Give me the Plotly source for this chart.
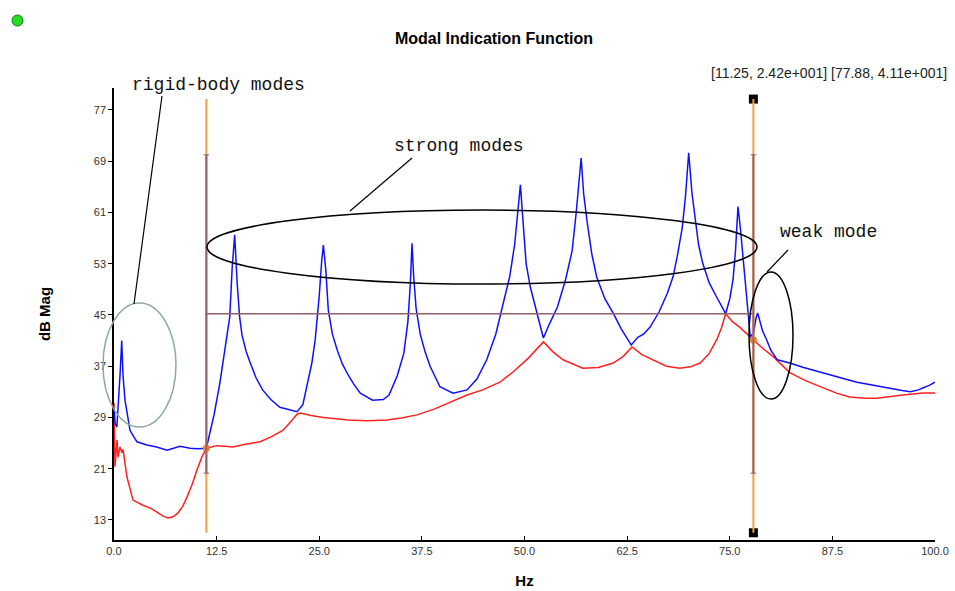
import plotly.graph_objects as go

# ---------------- data ----------------
blue_hz = [0.0, 0.15, 0.35, 0.55, 0.75, 0.94, 1.1, 1.34, 1.6, 1.95, 2.4, 2.8, 4.0, 5.2, 6.46, 7.3, 8.04, 9.26, 10.2, 11.25,
           12.2, 12.9, 13.6, 14.1, 14.4, 14.7, 15.0, 15.3, 15.6, 16.1, 16.6, 17.3, 18.1, 19.1, 20.2, 22.3, 23.0, 23.5, 24.1, 24.5,
           25.0, 25.3, 25.5, 25.8, 26.1, 26.6, 27.2, 27.8, 28.4, 29.2, 30.0, 31.5, 32.8, 33.5, 34.5, 35.3, 35.8, 36.1, 36.3, 36.5,
           36.8, 37.3, 37.9, 38.5, 39.7, 41.3, 43.0, 44.2, 45.4, 46.5, 47.4, 48.2, 48.8, 49.2, 49.5, 49.8, 50.2, 50.7, 51.5, 52.3,
           53.0, 54.0, 55.0, 55.8, 56.3, 56.7, 56.9, 57.2, 57.6, 58.2, 58.8, 59.8, 60.8, 61.8, 63.0, 63.8, 64.5, 65.3, 66.4, 67.4,
           68.1, 68.6, 69.2, 69.6, 70.0, 70.4, 70.8, 71.2, 71.7, 72.5, 73.4, 74.5, 75.0, 75.4, 75.7, 76.0, 76.3, 76.5, 76.8, 77.2,
           77.5, 77.9, 78.2, 78.4, 78.7, 79.0, 79.5, 80.0, 80.8, 82.3, 84.0, 86.4, 88.5, 90.5, 92.5, 94.5, 96.0, 97.0, 98.0, 98.5,
           99.3, 100.0]
blue_db = [30.5, 28.0, 27.5, 31.0, 36.0, 41.0, 35.5, 31.7, 29.5, 27.0, 26.0, 25.2, 24.7, 24.4, 23.9, 24.2, 24.5, 24.2, 24.1, 24.2,
           29.5, 34.4, 40.0, 44.7, 52.5, 57.5, 50.0, 44.7, 41.8, 39.3, 37.5, 35.2, 33.3, 31.8, 30.6, 29.9, 31.0, 33.8, 37.5, 41.1,
           48.0, 53.5, 55.9, 52.0, 45.8, 42.0, 39.5, 37.4, 35.9, 34.2, 32.8, 31.7, 31.8, 32.5, 35.5, 39.0, 44.0, 50.0, 56.2, 51.0,
           46.0, 42.0, 39.2, 37.0, 33.8, 32.8, 33.3, 35.0, 38.0, 42.0, 46.9, 51.0, 56.0, 61.0, 65.3, 60.0, 53.0, 49.4, 45.3, 41.4,
           43.5, 46.2, 50.5, 55.0, 61.0, 66.0, 69.5, 64.0, 59.8, 54.5, 50.9, 47.5, 45.3, 42.8, 40.3, 41.5, 42.0, 43.1, 45.5, 48.4,
           51.0, 54.1, 58.5, 63.4, 70.3, 64.0, 59.5, 56.0, 53.1, 50.0, 47.8, 45.2, 47.5, 50.5, 55.0, 61.9, 58.5, 55.6, 51.0, 44.7,
           41.6, 42.2, 44.5, 45.3, 44.0, 42.5, 41.1, 39.5, 38.0, 37.5, 36.8, 36.0, 35.2, 34.5, 34.0, 33.6, 33.2, 33.0, 33.3, 33.6,
           34.0, 34.5]

red_hz = [0.0, 0.12, 0.37, 0.49, 0.73, 0.97, 1.1, 1.58, 2.31, 3.53, 4.5, 5.24, 6.0, 6.58, 7.2, 7.8, 8.4, 8.9, 9.5, 10.1, 10.7,
          11.25, 12.5, 13.5, 14.5, 16.0, 17.8, 19.2, 20.6, 21.5, 22.3, 22.7, 24.0, 25.5, 26.7, 28.5, 30.8, 33.3, 35.0, 36.9, 39.0,
          40.9, 43.0, 44.9, 47.0, 48.6, 50.5, 52.3, 53.5, 54.7, 57.1, 59.0, 60.8, 62.0, 63.1, 64.3, 65.7, 67.3, 68.9, 70.2, 71.4,
          72.5, 73.4, 74.0, 74.5, 75.3, 76.2, 77.0, 77.88, 79.0, 80.3, 82.3, 84.3, 86.4, 88.0, 89.6, 91.5, 92.9, 94.5, 96.1, 98.5, 100.0]
red_db = [31.3, 21.3, 25.5, 22.8, 24.4, 23.5, 24.0, 19.7, 16.1, 15.3, 14.8, 14.2, 13.6, 13.3, 13.5, 14.1, 15.2, 16.6, 18.5, 20.8, 22.8,
          24.2, 24.6, 24.5, 24.4, 24.8, 25.2, 26.0, 27.0, 28.3, 29.5, 29.7, 29.3, 29.0, 28.8, 28.6, 28.5, 28.6, 28.9, 29.4, 30.3,
          31.4, 32.5, 33.3, 34.5, 36.1, 38.3, 40.8, 39.2, 38.0, 36.7, 36.8, 37.5, 38.5, 40.0, 38.8, 38.0, 37.0, 36.7, 36.9, 37.5,
          39.0, 41.1, 43.0, 45.2, 44.0, 43.1, 42.2, 41.1, 39.8, 38.5, 36.0, 34.7, 33.6, 32.8, 32.2, 32.0, 32.0, 32.3, 32.5, 32.8, 32.8]

cursor_x = [11.25, 77.88]
cursor_y = [24.2, 41.1]
band_level = 45.2
x_ticks = [0, 12.5, 25, 37.5, 50, 62.5, 75, 87.5, 100]
x_tick_text = ["0.0", "12.5", "25.0", "37.5", "50.0", "62.5", "75.0", "87.5", "100.0"]
y_ticks = [13, 21, 29, 37, 45, 53, 61, 69, 77]

# ---------------- layout geometry ----------------
W, H = 955, 591
L, R, T, B = 114, 20, 88, 51
PW, PH = W - L - R, H - T - B


def px(xp):
    return (xp - L) / PW


def py(yp):
    return (H - B - yp) / PH


fig = go.Figure()
fig.add_trace(go.Scatter(x=red_hz, y=red_db, mode="lines", line=dict(color="#ff2020", width=1.5), showlegend=False))
fig.add_trace(go.Scatter(x=blue_hz, y=blue_db, mode="lines", line=dict(color="#1010ff", width=1.5), showlegend=False))

ORANGE = "#f0a040"
MAROON = "#94606c"
shapes = []
y_top, y_bot, m_top, m_bot = 78.7, 11.0, 70.0, 20.3
for cx in cursor_x:
    shapes.append(dict(type="line", xref="x", yref="y", x0=cx, x1=cx, y0=y_bot, y1=y_top, line=dict(color=ORANGE, width=2)))
    shapes.append(dict(type="line", xref="x", yref="y", x0=cx, x1=cx, y0=m_bot, y1=m_top, line=dict(color=MAROON, width=2)))
    for yy in (m_bot, m_top):
        shapes.append(dict(type="line", xref="x", yref="y", x0=cx - 0.35, x1=cx + 0.35, y0=yy, y1=yy,
                           line=dict(color=MAROON, width=1)))
shapes.append(dict(type="line", xref="x", yref="y", x0=cursor_x[0], x1=cursor_x[1], y0=band_level, y1=band_level,
                   line=dict(color=MAROON, width=1.5)))

# ellipses and leader lines (annotation graphics)
shapes.append(dict(type="circle", xref="paper", yref="paper", x0=px(103), x1=px(176), y0=py(427), y1=py(303),
                   line=dict(color="#8fa8a0", width=1.5)))
shapes.append(dict(type="circle", xref="paper", yref="paper", x0=px(207), x1=px(757), y0=py(284), y1=py(210),
                   line=dict(color="black", width=1.5)))
shapes.append(dict(type="circle", xref="paper", yref="paper", x0=px(749), x1=px(793), y0=py(399), y1=py(272),
                   line=dict(color="black", width=1.5)))
for (a, b, c, d) in [(162, 96, 134, 304), (412, 158, 350, 211), (788, 250, 767, 272)]:
    shapes.append(dict(type="line", xref="paper", yref="paper", x0=px(a), y0=py(b), x1=px(c), y1=py(d),
                       line=dict(color="black", width=1.2)))
# green status dot
shapes.append(dict(type="circle", xref="paper", yref="paper", x0=px(12), x1=px(23), y0=py(26), y1=py(15),
                   fillcolor="#22dd22", line=dict(color="#107010", width=1)))

fig.add_trace(go.Scatter(x=cursor_x, y=cursor_y, mode="markers", marker=dict(color="#f08020", size=7),
                         showlegend=False, cliponaxis=False))
fig.add_trace(go.Scatter(x=[cursor_x[1], cursor_x[1]], y=[y_top, y_bot], mode="markers",
                         marker=dict(color="black", size=9, symbol="square"), showlegend=False, cliponaxis=False))

annots = []
mono = dict(family="Liberation Mono", size=18, color="#111111")
for text, xl, yc in [("rigid-body modes", 130, 85), ("strong modes", 392, 146), ("weak mode", 778, 232)]:
    annots.append(dict(text=text, xref="paper", yref="paper", x=px(xl), y=py(yc), xanchor="left", yanchor="middle",
                       showarrow=False, font=mono))
annots.append(dict(text="[11.25, 2.42e+001] [77.88, 4.11e+001]", xref="paper", yref="paper", x=px(709), y=py(73),
                   xanchor="left", yanchor="middle", showarrow=False,
                   font=dict(family="Liberation Sans", size=14, color="#222222")))

fig.update_layout(
    width=W, height=H, autosize=False,
    margin=dict(l=L, r=R, t=T, b=B, autoexpand=False),
    paper_bgcolor="white", plot_bgcolor="white",
    title=dict(text="<b>Modal Indication Function</b>", x=494 / W, xref="container", y=1 - 38 / H, yref="container",
               xanchor="center", yanchor="middle", font=dict(family="Liberation Sans", size=16, color="black")),
    xaxis=dict(range=[0, 100], tickvals=x_ticks, ticktext=x_tick_text, showgrid=False, zeroline=False, automargin=False,
               showline=True, linecolor="black", linewidth=1.5, ticks="inside", ticklen=4, tickcolor="black",
               tickfont=dict(family="Liberation Sans", size=11, color="#333333"),
               title=dict(text="<b>Hz</b>", font=dict(family="Liberation Sans", size=15, color="black"), standoff=20)),
    yaxis=dict(range=[9.87, 80.43], tickvals=y_ticks, showgrid=False, zeroline=False, automargin=False,
               showline=True, linecolor="black", linewidth=1.5, ticks="outside", ticklen=4, tickcolor="black",
               tickfont=dict(family="Liberation Sans", size=11, color="#333333"),
               title=dict(text="<b>dB Mag</b>", font=dict(family="Liberation Sans", size=15, color="black"), standoff=40)),
    shapes=shapes, annotations=annots,
)

fig.write_html("out.html", config={"displayModeBar": False},
               post_script="document.body.style.margin='0';document.body.style.overflow='hidden';")
